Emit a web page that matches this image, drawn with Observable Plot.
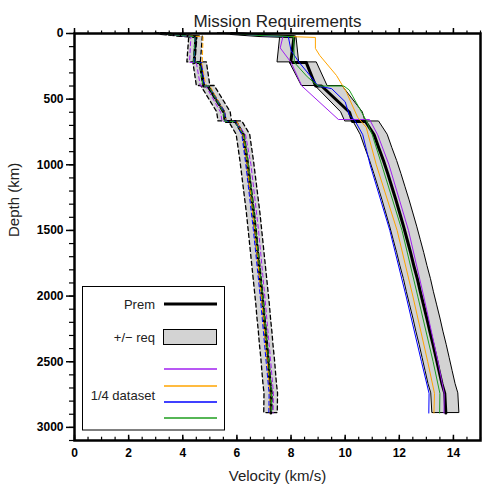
<!DOCTYPE html>
<html><head><meta charset="utf-8">
<script src="https://cdn.jsdelivr.net/npm/d3@7"></script>
<script src="https://cdn.jsdelivr.net/npm/@observablehq/plot@0.6"></script>
<style>body{margin:0;background:#fff;} svg{display:block}</style>
</head><body><div id="chart"></div>
<script>
// ---- Reference model (Prem) sampled depths (km) ----
const premDepth = [0,15,24,220,220,400,400,600,670,670,771,871,971,1071,1171,1271,1371,1471,1571,1671,1771,1871,1971,2071,2171,2271,2371,2471,2571,2671,2741,2891];
const vpPrem = [5.8,6.8,8.11,7.99,8.56,8.91,9.13,10.16,10.27,10.75,11.07,11.24,11.42,11.58,11.73,11.88,12.02,12.16,12.29,12.42,12.54,12.67,12.78,12.90,13.02,13.13,13.25,13.36,13.47,13.58,13.68,13.72];
const vsPrem = [3.2,3.9,4.49,4.42,4.64,4.77,4.93,5.52,5.57,5.95,6.24,6.31,6.38,6.44,6.50,6.56,6.62,6.67,6.72,6.77,6.82,6.87,6.92,6.97,7.01,7.06,7.10,7.15,7.19,7.23,7.27,7.26];
// ---- +/- requirement envelopes ----
const vpLo = [5.3,6.3,7.6,7.5,7.95,8.4,8.9,9.85,10.0,10.3,10.57,10.74,10.92,11.08,11.23,11.38,11.52,11.66,11.79,11.92,12.04,12.17,12.28,12.40,12.52,12.63,12.75,12.86,12.97,13.08,13.18,13.22];
const vpHi = [6.3,7.3,8.2,8.3,8.95,9.35,9.9,10.65,10.75,11.25,11.57,11.74,11.92,12.08,12.23,12.38,12.52,12.66,12.79,12.92,13.04,13.17,13.28,13.40,13.52,13.63,13.75,13.86,13.97,14.08,14.18,14.22];
const vsLo = [2.95,3.65,4.24,4.17,4.39,4.52,4.68,5.27,5.32,5.70,5.99,6.06,6.13,6.19,6.25,6.31,6.37,6.42,6.47,6.52,6.57,6.62,6.67,6.72,6.76,6.81,6.85,6.90,6.94,6.98,7.02,7.01];
const vsHi = [3.45,4.15,4.74,4.67,4.89,5.02,5.18,5.77,5.82,6.20,6.49,6.56,6.63,6.69,6.75,6.81,6.87,6.92,6.97,7.02,7.07,7.12,7.17,7.22,7.26,7.31,7.35,7.40,7.44,7.48,7.52,7.51];
// ---- 1/4 dataset models: Vp ----
const vpPurpleD = [0,15,24,110,220,400,655,655,771,1000,1500,2000,2500,2741,2891];
const vpPurpleV = [5.8,6.8,7.7,7.6,8.0,8.4,9.75,10.9,11.2,11.62,12.34,12.9,13.43,13.66,13.65];
const vpOrangeD = [0,15,30,114,167,320,448,638,715,771,1000,1500,2000,2500,2741,2891];
const vpOrangeV = [5.8,6.8,8.9,8.9,9.06,9.68,10.05,10.46,10.78,10.85,11.15,11.92,12.5,13.05,13.3,13.28];
const vpBlueD = [0,15,24,130,220,320,400,420,520,620,660,771,1000,1500,2000,2500,2741,2891];
const vpBlueV = [5.8,6.8,7.9,8.0,8.3,8.7,9.0,9.5,10.0,10.15,10.35,10.65,10.92,11.65,12.25,12.82,13.1,13.09];
const vpGreenD = [0,15,24,220,330,400,400,430,523,663,771,1000,1500,2000,2500,2741,2891];
const vpGreenV = [5.8,6.8,8.1,8.12,8.6,9.0,9.95,10.15,10.4,10.78,11.0,11.35,12.1,12.68,13.25,13.5,13.49];
// ---- 1/4 dataset models: Vs ----
const vsDataD = [0,15,24,220,220,400,400,600,670,670,771,1000,1500,2000,2500,2741,2891];
const vsPurpleV = [3.2,3.9,4.3,4.25,4.5,4.65,4.85,5.4,5.45,5.95,6.32,6.52,6.8,7.03,7.25,7.35,7.34];
const vsOrangeV = [3.2,3.9,4.75,4.72,4.7,4.85,5.0,5.55,5.6,6.0,6.22,6.38,6.66,6.9,7.12,7.22,7.21];
const vsBlueV = [3.2,3.9,4.45,4.42,4.68,4.8,4.95,5.55,5.6,5.95,6.18,6.33,6.61,6.86,7.08,7.19,7.18];
const vsGreenV = [3.2,3.9,4.45,4.4,4.62,4.75,4.95,5.5,5.55,5.9,6.26,6.42,6.7,6.95,7.18,7.28,7.27];
// ---- ticks ----
const xMajor = [0,2,4,6,8,10,12,14];
const xMinor = d3.range(0, 15.01, 0.5);
const yMajor = [0,500,1000,1500,2000,2500,3000];
const yMinor = d3.range(0, 3101, 100);
const legendColors = ["#a020f0", "#ffa500", "#0000ff", "#1e9e1e"];

const colors = {purple:"#a020f0", orange:"#ffa500", blue:"#0000ff", green:"#1e9e1e"};
const pairs = (D, V) => D.map((d, i) => ({d, v: V[i]}));
const band = (D, L, H) => D.map((d, i) => ({d, lo: L[i], hi: H[i]}));

const vpBand = band(premDepth, vpLo, vpHi);
const vsBand = band(premDepth, vsLo, vsHi);

const font = "Liberation Sans, Arial, Helvetica, sans-serif";
const plot = Plot.plot({
  width: 482, height: 489,
  marginLeft: 74, marginRight: 2, marginTop: 33, marginBottom: 49,
  style: {fontFamily: font, background: "white", color: "black"},
  x: {domain: [0, 15]},
  y: {domain: [0, 3100], reverse: true},
  marks: [
    Plot.areaX(vpBand, {y: "d", x1: "lo", x2: "hi", fill: "#d3d3d3", stroke: "black", strokeWidth: 1}),
    Plot.areaX(vsBand, {y: "d", x1: "lo", x2: "hi", fill: "#d3d3d3", stroke: "black", strokeWidth: 1.3, strokeDasharray: "4,3"}),
    Plot.line(pairs(premDepth, vpPrem), {x: "v", y: "d", stroke: "black", strokeWidth: 3}),
    Plot.line(pairs(premDepth, vsPrem), {x: "v", y: "d", stroke: "black", strokeWidth: 3, strokeDasharray: "5,3"}),
    Plot.line(pairs(vpPurpleD, vpPurpleV), {x: "v", y: "d", stroke: colors.purple, strokeWidth: 1}),
    Plot.line(pairs(vpOrangeD, vpOrangeV), {x: "v", y: "d", stroke: colors.orange, strokeWidth: 1}),
    Plot.line(pairs(vpBlueD, vpBlueV), {x: "v", y: "d", stroke: colors.blue, strokeWidth: 1}),
    Plot.line(pairs(vpGreenD, vpGreenV), {x: "v", y: "d", stroke: colors.green, strokeWidth: 1}),
    Plot.line(pairs(vsDataD, vsPurpleV), {x: "v", y: "d", stroke: colors.purple, strokeWidth: 1, strokeDasharray: "4,3"}),
    Plot.line(pairs(vsDataD, vsOrangeV), {x: "v", y: "d", stroke: colors.orange, strokeWidth: 1, strokeDasharray: "4,3"}),
    Plot.line(pairs(vsDataD, vsBlueV), {x: "v", y: "d", stroke: colors.blue, strokeWidth: 1, strokeDasharray: "4,3"}),
    Plot.line(pairs(vsDataD, vsGreenV), {x: "v", y: "d", stroke: colors.green, strokeWidth: 1, strokeDasharray: "4,3"}),
    Plot.frame({stroke: "black", strokeWidth: 2.5}),
    // top axis: ticks only
    Plot.axisX({anchor: "top", ticks: xMajor, tickSize: 6, strokeWidth: 1.5, text: null, label: null}),
    Plot.axisX({anchor: "top", ticks: xMinor, tickSize: 3.5, strokeWidth: 1.2, text: null, label: null}),
    // bottom axis: labels, ticks inside
    Plot.axisX({anchor: "bottom", ticks: xMajor, tickSize: 0, tickPadding: 8, fontWeight: "bold", fontSize: 12, label: null, tickFormat: d => String(d)}),
    Plot.ruleX(xMajor, {y1: 3100, y2: 3100 - 40, stroke: "black", strokeWidth: 1.5}),
    Plot.ruleX(xMinor, {y1: 3100, y2: 3100 - 25, stroke: "black", strokeWidth: 1.2}),
    // left axis
    Plot.axisY({anchor: "left", ticks: yMajor, tickSize: 8, tickPadding: 3, strokeWidth: 1.5, fontWeight: "bold", fontSize: 12, label: null, tickFormat: d => String(d)}),
    Plot.axisY({anchor: "left", ticks: yMinor, tickSize: 5, strokeWidth: 1.2, text: null, label: null}),
    // titles
    Plot.text(["Mission Requirements"], {frameAnchor: "top", dy: -19, fontSize: 17, fill: "#222"}),
    Plot.text(["Velocity (km/s)"], {frameAnchor: "bottom", dy: 40, fontSize: 15, fill: "#222"}),
    Plot.text(["Depth (km)"], {frameAnchor: "left", dx: -60, rotate: -90, fontSize: 15, fill: "#222"})
  ]
});

// ---- legend ----
const svg = d3.select(plot);
const lg = svg.append("g").attr("font-family", font).attr("font-size", 13);
lg.append("rect").attr("x", 82.5).attr("y", 286.5).attr("width", 142).attr("height", 143.5).style("fill", "white").style("stroke", "black").style("stroke-width", "1px");
lg.append("text").attr("x", 155).attr("y", 304).attr("dy", "0.35em").attr("text-anchor", "end").style("fill", "#222").text("Prem");
lg.append("line").attr("x1", 164).attr("x2", 217).attr("y1", 304).attr("y2", 304).style("stroke", "black").style("stroke-width", "3px");
lg.append("text").attr("x", 155).attr("y", 337).attr("dy", "0.35em").attr("text-anchor", "end").style("fill", "#222").text("+/\u2212 req");
lg.append("rect").attr("x", 163.5).attr("y", 329.5).attr("width", 53).attr("height", 15).style("fill", "#d3d3d3").style("stroke", "black").style("stroke-width", "1px");
lg.append("text").attr("x", 155).attr("y", 395).attr("dy", "0.35em").attr("text-anchor", "end").style("fill", "#222").text("1/4 dataset");
[369, 386, 402, 418].forEach((y, i) => {
  lg.append("line").attr("x1", 164).attr("x2", 217).attr("y1", y).attr("y2", y)
    .style("stroke", legendColors[i]).style("stroke-width", "1.3px");
});

document.getElementById("chart").append(plot);
</script>
</body></html>
